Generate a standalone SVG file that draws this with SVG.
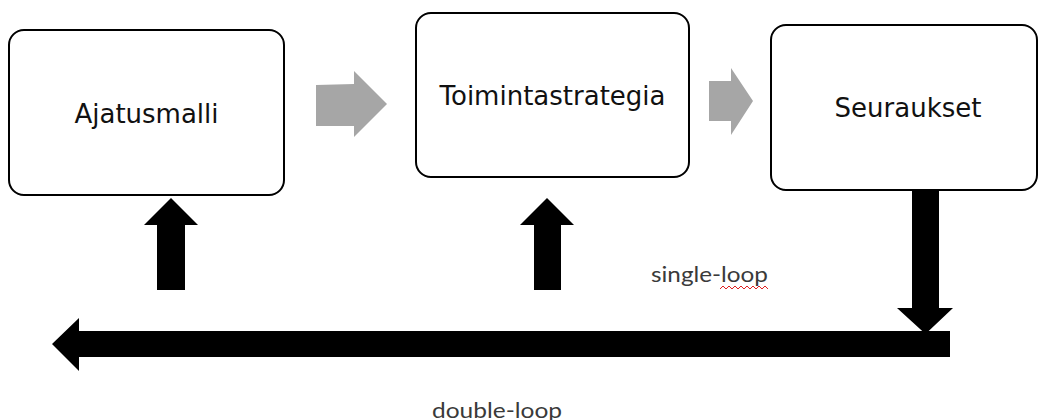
<svg xmlns="http://www.w3.org/2000/svg" width="1040" height="420" viewBox="0 0 1040 420">
  <style>
    .box { fill: #ffffff; stroke: #000000; stroke-width: 2; }
    .title { font-family: "DejaVu Sans", Verdana, sans-serif; font-size: 26px; fill: #111111; text-anchor: middle; }
    .label { font-family: Lato, "Liberation Sans", sans-serif; font-size: 21px; fill: #3a3a3a; }
    .flow { fill: #a6a6a6; }
    .loop { fill: #000000; }
    .spell { fill: none; stroke: #e02020; stroke-width: 1; }
  </style>
  <rect width="1040" height="420" fill="#ffffff"/>

  <g id="node-ajatusmalli">
    <rect class="box" x="9" y="30" width="275" height="165" rx="15" ry="15"/>
    <text class="title" x="146.5" y="123">Ajatusmalli</text>
  </g>

  <g id="node-toimintastrategia">
    <rect class="box" x="416" y="13" width="273" height="164" rx="15" ry="15"/>
    <text class="title" x="552.5" y="105">Toimintastrategia</text>
  </g>

  <g id="node-seuraukset">
    <rect class="box" x="771" y="25" width="266" height="165" rx="15" ry="15"/>
    <text class="title" x="908" y="117">Seuraukset</text>
  </g>

  <g id="connectors">
    <!-- grey block arrows between the boxes -->
    <polygon class="flow" points="316,85 354,84 354,71 387,104 354,137 354,126 316,126"/>
    <polygon class="flow" points="709,81 731,81 731,68 753,101 731,135 731,121 709,121"/>

    <!-- down arrow from Seuraukset into the feedback bar -->
    <polygon class="loop" points="912,190 939,190 939,308 953,308 925.5,334 897,308 912,308"/>

    <!-- double-loop feedback bar pointing left -->
    <polygon class="loop" points="950,331 950,357 79,357 79,371 52,344 79,318 79,331"/>

    <!-- single-loop arrows up into the boxes -->
    <polygon class="loop" points="157,290 185,290 185,225 198,225 171,198 144,225 157,225"/>
    <polygon class="loop" points="534,290 561,290 561,225 574,225 547,198 520,225 534,225"/>
  </g>

  <g id="labels">
    <text class="label" x="651" y="282" textLength="117" lengthAdjust="spacingAndGlyphs">single-loop</text>
    <path class="spell" d="M720,289 l3,-3 3,3 3,-3 3,3 3,-3 3,3 3,-3 3,3 3,-3 3,3 3,-3 3,3 3,-3 3,3 3,-3 3,3"/>
    <text class="label" x="432" y="418" textLength="130" lengthAdjust="spacingAndGlyphs">double-loop</text>
  </g>
</svg>
